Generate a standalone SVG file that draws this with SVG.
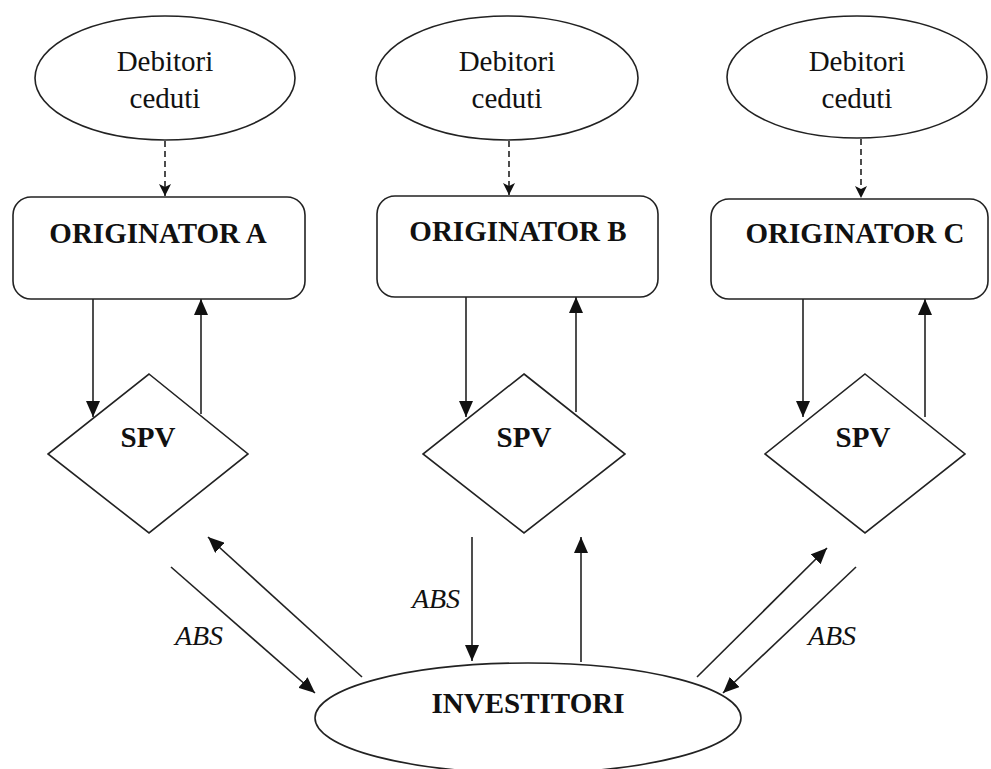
<svg xmlns="http://www.w3.org/2000/svg" width="991" height="769" viewBox="0 0 991 769">
  <style>
    .shape { fill: #fff; stroke: #222; stroke-width: 1.6; }
    .link { fill: none; stroke: #222; stroke-width: 1.6; }
    .dash { fill: none; stroke: #222; stroke-width: 1.6; stroke-dasharray: 6 4; }
    .lbl { font-family: "Liberation Serif", "Times New Roman", serif; font-size: 29px; fill: #111; text-anchor: middle; }
    .bold { font-weight: bold; }
    .ital { font-style: italic; font-size: 28px; }
  </style>
  <defs>
    <marker id="arrow" markerUnits="userSpaceOnUse" markerWidth="16" markerHeight="14" refX="16" refY="7" orient="auto">
      <path d="M0,0 L16,7 L0,14 z" fill="#111"/>
    </marker>
    <marker id="arrowSmall" markerUnits="userSpaceOnUse" markerWidth="12" markerHeight="12" refX="12" refY="6" orient="auto">
      <path d="M0,0 L12,6 L0,12 L3,6 z" fill="#111"/>
    </marker>
  </defs>

  <rect width="991" height="769" fill="#fff"/>

  <!-- connectors -->
  <g id="connectors">
    <!-- debitori to originators (dashed) -->
    <line class="dash" x1="165" y1="141" x2="165" y2="196" marker-end="url(#arrowSmall)"/>
    <line class="dash" x1="509" y1="141" x2="509" y2="195" marker-end="url(#arrowSmall)"/>
    <line class="dash" x1="861" y1="139" x2="861" y2="198" marker-end="url(#arrowSmall)"/>

    <!-- originator / SPV pairs -->
    <line class="link" x1="93" y1="299" x2="93" y2="417" marker-end="url(#arrow)"/>
    <line class="link" x1="201" y1="414" x2="201" y2="299" marker-end="url(#arrow)"/>
    <line class="link" x1="466" y1="297" x2="466" y2="417" marker-end="url(#arrow)"/>
    <line class="link" x1="576" y1="412" x2="576" y2="297" marker-end="url(#arrow)"/>
    <line class="link" x1="803" y1="299" x2="803" y2="417" marker-end="url(#arrow)"/>
    <line class="link" x1="925" y1="417" x2="925" y2="299" marker-end="url(#arrow)"/>

    <!-- SPV / investitori pairs -->
    <line class="link" x1="171" y1="567" x2="315" y2="693" marker-end="url(#arrow)"/>
    <line class="link" x1="362" y1="677" x2="208" y2="537" marker-end="url(#arrow)"/>
    <line class="link" x1="472" y1="537" x2="472" y2="661" marker-end="url(#arrow)"/>
    <line class="link" x1="581" y1="662" x2="581" y2="537" marker-end="url(#arrow)"/>
    <line class="link" x1="697" y1="677" x2="827" y2="548" marker-end="url(#arrow)"/>
    <line class="link" x1="856" y1="567" x2="723" y2="693" marker-end="url(#arrow)"/>

    <text class="lbl ital" x="199" y="645">ABS</text>
    <text class="lbl ital" x="436" y="608">ABS</text>
    <text class="lbl ital" x="832" y="645">ABS</text>
  </g>

  <!-- debitori ceduti -->
  <g id="debitori-a">
    <ellipse class="shape" cx="165" cy="78" rx="130" ry="62"/>
    <text class="lbl" x="165" y="71">Debitori</text>
    <text class="lbl" x="165" y="108">ceduti</text>
  </g>
  <g id="debitori-b">
    <ellipse class="shape" cx="507" cy="78" rx="131" ry="62"/>
    <text class="lbl" x="507" y="71">Debitori</text>
    <text class="lbl" x="507" y="108">ceduti</text>
  </g>
  <g id="debitori-c">
    <ellipse class="shape" cx="857" cy="77" rx="130" ry="61"/>
    <text class="lbl" x="857" y="71">Debitori</text>
    <text class="lbl" x="857" y="108">ceduti</text>
  </g>

  <!-- originators -->
  <g id="originator-a">
    <rect class="shape" x="13" y="197" width="292" height="102" rx="18"/>
    <text class="lbl bold" x="158" y="243">ORIGINATOR A</text>
  </g>
  <g id="originator-b">
    <rect class="shape" x="377" y="196" width="281" height="101" rx="18"/>
    <text class="lbl bold" x="518" y="241">ORIGINATOR B</text>
  </g>
  <g id="originator-c">
    <rect class="shape" x="711" y="199" width="277" height="100" rx="18"/>
    <text class="lbl bold" x="855" y="243">ORIGINATOR C</text>
  </g>

  <!-- SPVs -->
  <g id="spv-a">
    <polygon class="shape" points="149,374 248,454 149,533 48,454"/>
    <text class="lbl bold" x="148" y="447">SPV</text>
  </g>
  <g id="spv-b">
    <polygon class="shape" points="524,374 625,454 524,533 423,454"/>
    <text class="lbl bold" x="524" y="447">SPV</text>
  </g>
  <g id="spv-c">
    <polygon class="shape" points="865,374 965,454 865,533 765,454"/>
    <text class="lbl bold" x="863" y="447">SPV</text>
  </g>

  <!-- investitori -->
  <g id="investitori">
    <ellipse class="shape" cx="528" cy="718" rx="213" ry="55"/>
    <text class="lbl bold" x="528" y="713">INVESTITORI</text>
  </g>
</svg>
